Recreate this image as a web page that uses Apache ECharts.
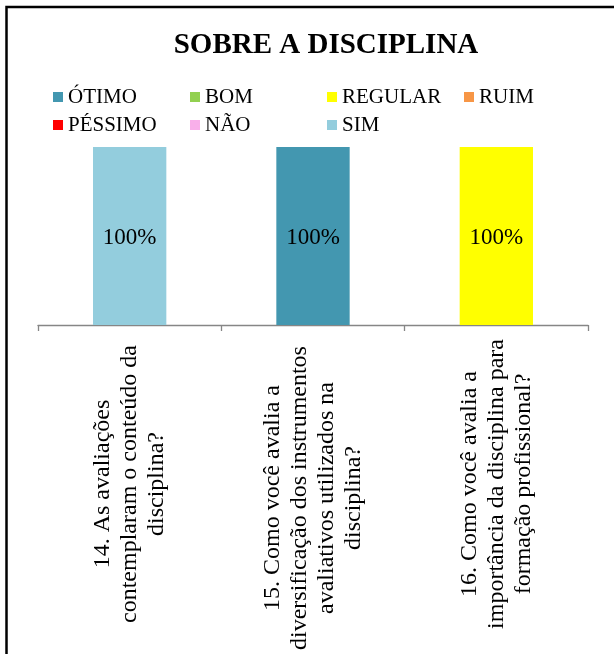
<!DOCTYPE html>
<html>
<head>
<meta charset="utf-8">
<script src="https://cdn.jsdelivr.net/npm/echarts@6/dist/echarts.min.js"></script>
<style>
html,body{margin:0;padding:0;background:#fff;}
#c{width:614px;height:654px;}
</style>
</head>
<body>
<div id="c"></div>
<script>
const categories = [
  "14. As avaliações\ncontemplaram o conteúdo da\ndisciplina?",
  "15. Como você avalia a\ndiversificação dos instrumentos\navaliativos utilizados na\ndisciplina?",
  "16. Como você avalia a\nimportância da disciplina para\nformação profissional?"
];
const seriesNames = ["ÓTIMO","BOM","REGULAR","RUIM","PÉSSIMO","NÃO","SIM"];
const otimo   = [0, 100, 0];
const bom     = [0, 0, 0];
const regular = [0, 0, 100];
const ruim    = [0, 0, 0];
const pessimo = [0, 0, 0];
const nao     = [0, 0, 0];
const sim     = [100, 0, 0];
const colors = ["#4397B0","#92D050","#FFFF00","#F79646","#FF0000","#F9AFEA","#93CDDD"];

const serif = "'Liberation Serif','Times New Roman',serif";
const allData = [otimo, bom, regular, ruim, pessimo, nao, sim];
const labelBase = {align: 'center', fontFamily: serif, fontSize: 24, lineHeight: 27, color: '#000'};

const chart = echarts.init(document.getElementById('c'));
chart.setOption({
  animation: false,
  backgroundColor: '#fff',
  color: colors,
  title: {
    text: 'SOBRE A DISCIPLINA',
    left: 321,
    top: 25,
    textAlign: 'center',
    textStyle: {fontFamily: serif, fontWeight: 'bold', fontSize: 29, color: '#000', lineHeight: 32}
  },
  graphic: [{
    type: 'rect',
    shape: {x: 6.5, y: 7, width: 800, height: 800},
    style: {fill: 'none', stroke: '#000', lineWidth: 2.5},
    silent: true
  }],
  legend: {
    left: 53, top: 83, width: 560, padding: 0,
    itemWidth: 10, itemHeight: 10, itemGap: 0,
    icon: 'rect',
    data: seriesNames,
    textStyle: {fontFamily: serif, fontSize: 21, color: '#000', width: 122, lineHeight: 28}
  },
  grid: {left: 38, right: 26, top: 147, bottom: 329, containLabel: false, outerBoundsMode: 'none'},
  xAxis: {
    type: 'category',
    data: categories,
    axisLine: {lineStyle: {color: '#868686', width: 1.3}},
    axisTick: {show: true, length: 6, lineStyle: {color: '#868686', width: 1.3}},
    axisLabel: {
      interval: 0,
      rotate: 90,
      margin: 10,
      hideOverlap: false,
      formatter: (v, i) => {
        const s = i === 1 ? 'd' : 'c';
        return v.split('\n').map(l => '{' + s + '|' + l + '}').join('\n');
      },
      rich: {
        c: Object.assign({width: 298}, labelBase),
        d: Object.assign({width: 326}, labelBase)
      }
    }
  },
  yAxis: {type: 'value', min: 0, max: 100, show: false, splitLine: {show: false}},
  series: seriesNames.map((n, i) => ({
    name: n,
    type: 'bar',
    stack: 'total',
    barWidth: '40%',
    data: allData[i],
    itemStyle: {color: colors[i]},
    label: {
      show: true,
      position: 'inside',
      offset: [0, 2],
      formatter: p => p.value > 0 ? p.value + '%' : '',
      fontFamily: serif, fontSize: 23, color: '#000'
    }
  }))
});
</script>
</body>
</html>
